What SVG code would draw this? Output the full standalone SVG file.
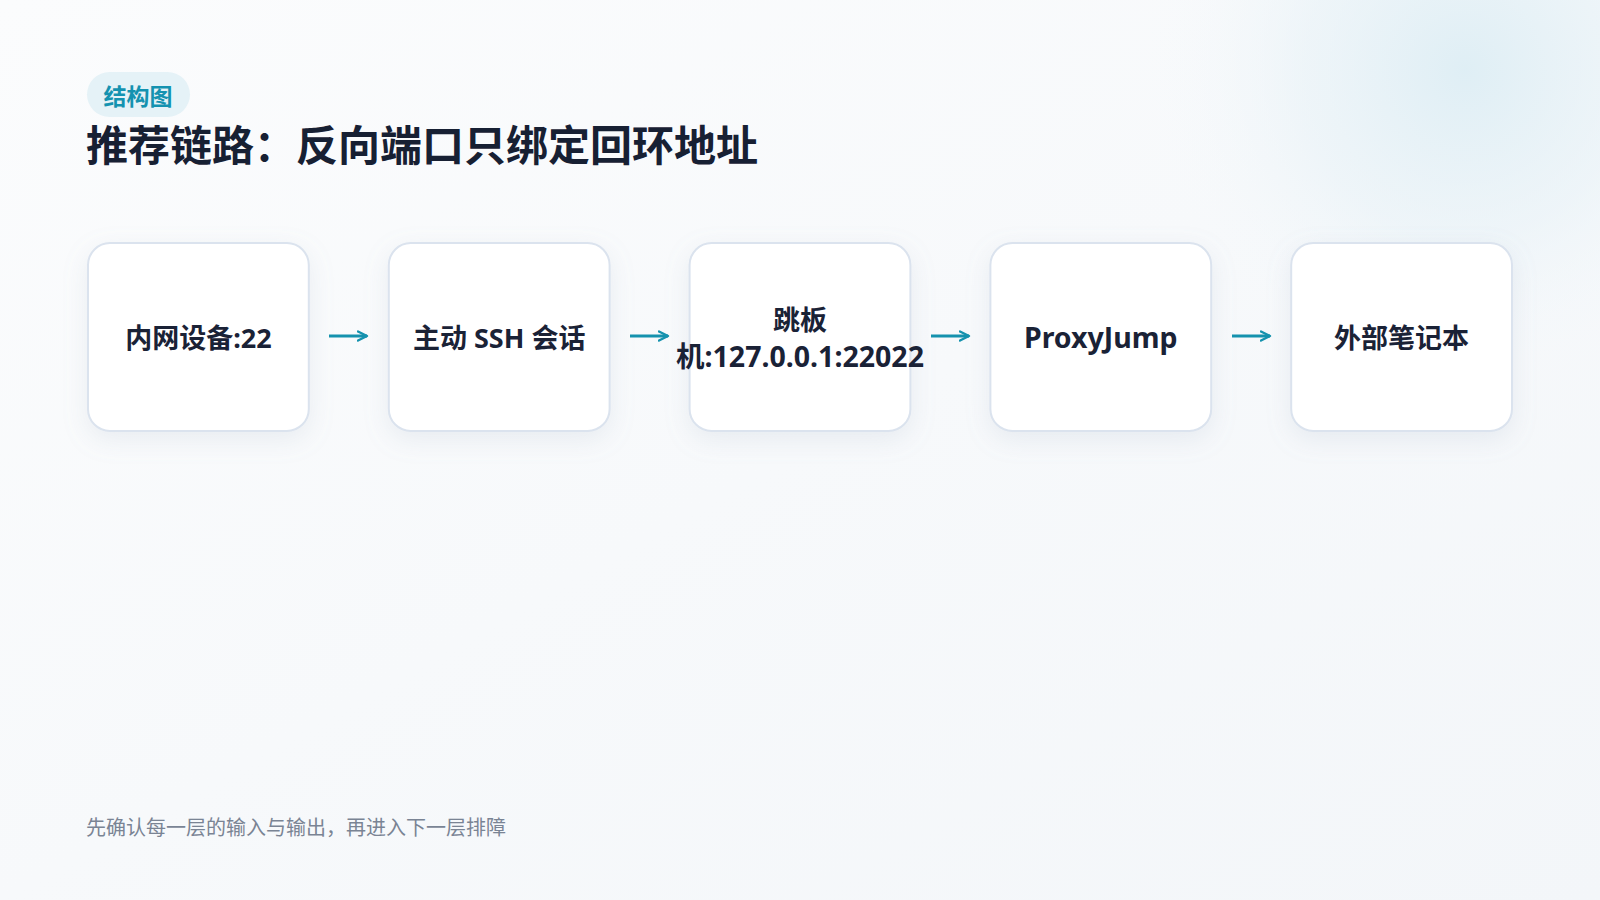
<svg xmlns="http://www.w3.org/2000/svg" width="1600" height="900" viewBox="0 0 1600 900">
  <defs>
    <radialGradient id="glow" cx="1465" cy="70" r="330" gradientUnits="userSpaceOnUse">
      <stop offset="0" stop-color="#dcedf4" stop-opacity="0.9"/>
      <stop offset="0.5" stop-color="#e8f2f7" stop-opacity="0.6"/>
      <stop offset="1" stop-color="#f8fafc" stop-opacity="0"/>
    </radialGradient>
    <linearGradient id="bg" x1="0" y1="0" x2="1" y2="1">
      <stop offset="0" stop-color="#fbfcfd"/>
      <stop offset="1" stop-color="#f3f6f9"/>
    </linearGradient>
    <filter id="shadow" x="-20%" y="-20%" width="140%" height="150%">
      <feDropShadow dx="0" dy="8" stdDeviation="12" flood-color="#94a3b8" flood-opacity="0.16"/>
    </filter>
    <marker id="arrow" viewBox="0 0 12 12" refX="10.5" refY="6" markerWidth="12" markerHeight="12" markerUnits="userSpaceOnUse" orient="auto">
      <path d="M1.5,1.5 L10.5,6 L1.5,10.5" fill="none" stroke="#1592ae" stroke-width="2.4" stroke-linecap="round" stroke-linejoin="round"/>
    </marker>
  </defs>
  <style>
    .box { fill: #ffffff; stroke: #dbe3ee; stroke-width: 2; filter: url(#shadow); }
    .label { font-family: "Noto Sans", "Noto Sans CJK SC", sans-serif; font-weight: 700; font-size: 27px; fill: #1a2236; text-anchor: middle; dominant-baseline: central; }
    .wide { font-size: 28.5px; }
    .conn { stroke: #1592ae; stroke-width: 3; fill: none; marker-end: url(#arrow); }
  </style>
  <rect width="1600" height="900" fill="url(#bg)"/>
  <rect width="1600" height="900" fill="url(#glow)"/>

  <g id="header">
    <rect x="87" y="72" width="103" height="45" rx="22.5" fill="#e5f2f7"/>
    <text x="138" y="95" font-family="Noto Sans CJK SC, sans-serif" font-weight="700" font-size="23" fill="#1492b0" text-anchor="middle" dominant-baseline="central">结构图</text>
    <text x="86" y="161" font-family="Noto Sans CJK SC, sans-serif" font-weight="700" font-size="42" fill="#172033">推荐链路：反向端口只绑定回环地址</text>
  </g>

  <g id="node1">
    <rect class="box" x="88" y="243" width="220.8" height="188" rx="22"/>
    <text class="label" x="198.4" y="337">内网设备:22</text>
  </g>
  <g id="node2">
    <rect class="box" x="388.8" y="243" width="220.8" height="188" rx="22"/>
    <text class="label" x="499.2" y="337">主动 SSH 会话</text>
  </g>
  <g id="node3">
    <rect class="box" x="689.6" y="243" width="220.8" height="188" rx="22"/>
    <text class="label" x="800" y="319">跳板</text>
    <text class="label wide" x="800" y="356">机:127.0.0.1:22022</text>
  </g>
  <g id="node4">
    <rect class="box" x="990.4" y="243" width="220.8" height="188" rx="22"/>
    <text class="label wide" x="1100.8" y="337">ProxyJump</text>
  </g>
  <g id="node5">
    <rect class="box" x="1291.2" y="243" width="220.8" height="188" rx="22"/>
    <text class="label" x="1401.6" y="337">外部笔记本</text>
  </g>

  <g id="connectors">
    <line class="conn" x1="329" y1="336" x2="367" y2="336"/>
    <line class="conn" x1="630" y1="336" x2="668" y2="336"/>
    <line class="conn" x1="931" y1="336" x2="969" y2="336"/>
    <line class="conn" x1="1232" y1="336" x2="1270" y2="336"/>
  </g>

  <g id="footer">
    <text x="86" y="835" font-family="Noto Sans CJK SC, sans-serif" font-size="20" fill="#7a8494">先确认每一层的输入与输出，再进入下一层排障</text>
  </g>
</svg>
